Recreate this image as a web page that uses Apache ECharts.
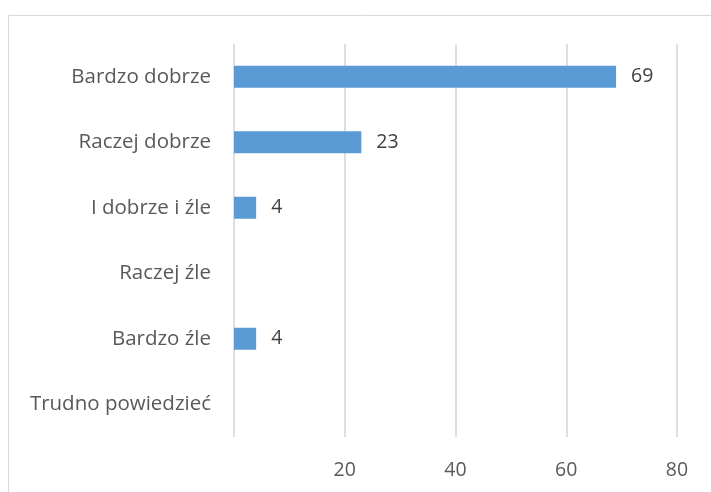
<!DOCTYPE html>
<html><head><meta charset="utf-8">
<script src="https://cdn.jsdelivr.net/npm/echarts@6/dist/echarts.min.js"></script>
<style>html,body{margin:0;padding:0;background:#fff}#c{width:711px;height:492px}</style>
</head><body><div id="c"></div>
<script>
const categories = ['Bardzo dobrze','Raczej dobrze','I dobrze i źle','Raczej źle','Bardzo źle','Trudno powiedzieć'];
const values = [69, 23, 4, null, 4, null];
const xTicks = [0, 20, 40, 60, 80];

const chart = echarts.init(document.getElementById('c'), null, {renderer:'canvas'});
const font = '"Open Sans", "Noto Sans", sans-serif';
chart.setOption({
  animation: false,
  backgroundColor: '#fff',
  graphic: [{type:'rect', shape:{x:8.5, y:15.5, width:900, height:700}, style:{fill:'none', stroke:'#d9d9d9', lineWidth:1}, silent:true}],
  grid: {left:234, right:34, top:44, bottom:55, containLabel:false},
  xAxis: {
    type:'value', min:xTicks[0], max:xTicks[xTicks.length-1], interval:20,
    axisLine:{show:false}, axisTick:{show:false},
    splitLine:{show:true, lineStyle:{color:'#d4d4d4', width:1.5}},
    axisLabel:{color:'#595959', fontSize:19.5, fontFamily:font, margin:23,
      formatter: v => v === 0 ? '' : String(v)}
  },
  yAxis: {
    type:'category', data:categories, inverse:true,
    axisLine:{show:false}, axisTick:{show:false}, splitLine:{show:false},
    axisLabel:{color:'#595959', fontSize:20.5, fontFamily:font, margin:23}
  },
  series: [{
    type:'bar', data:values, barWidth:22,
    itemStyle:{color:'#5B9BD5'},
    label:{show:true, position:'right', distance:15, color:'#404040', fontSize:19.5, fontFamily:font}
  }]
});
</script></body></html>
